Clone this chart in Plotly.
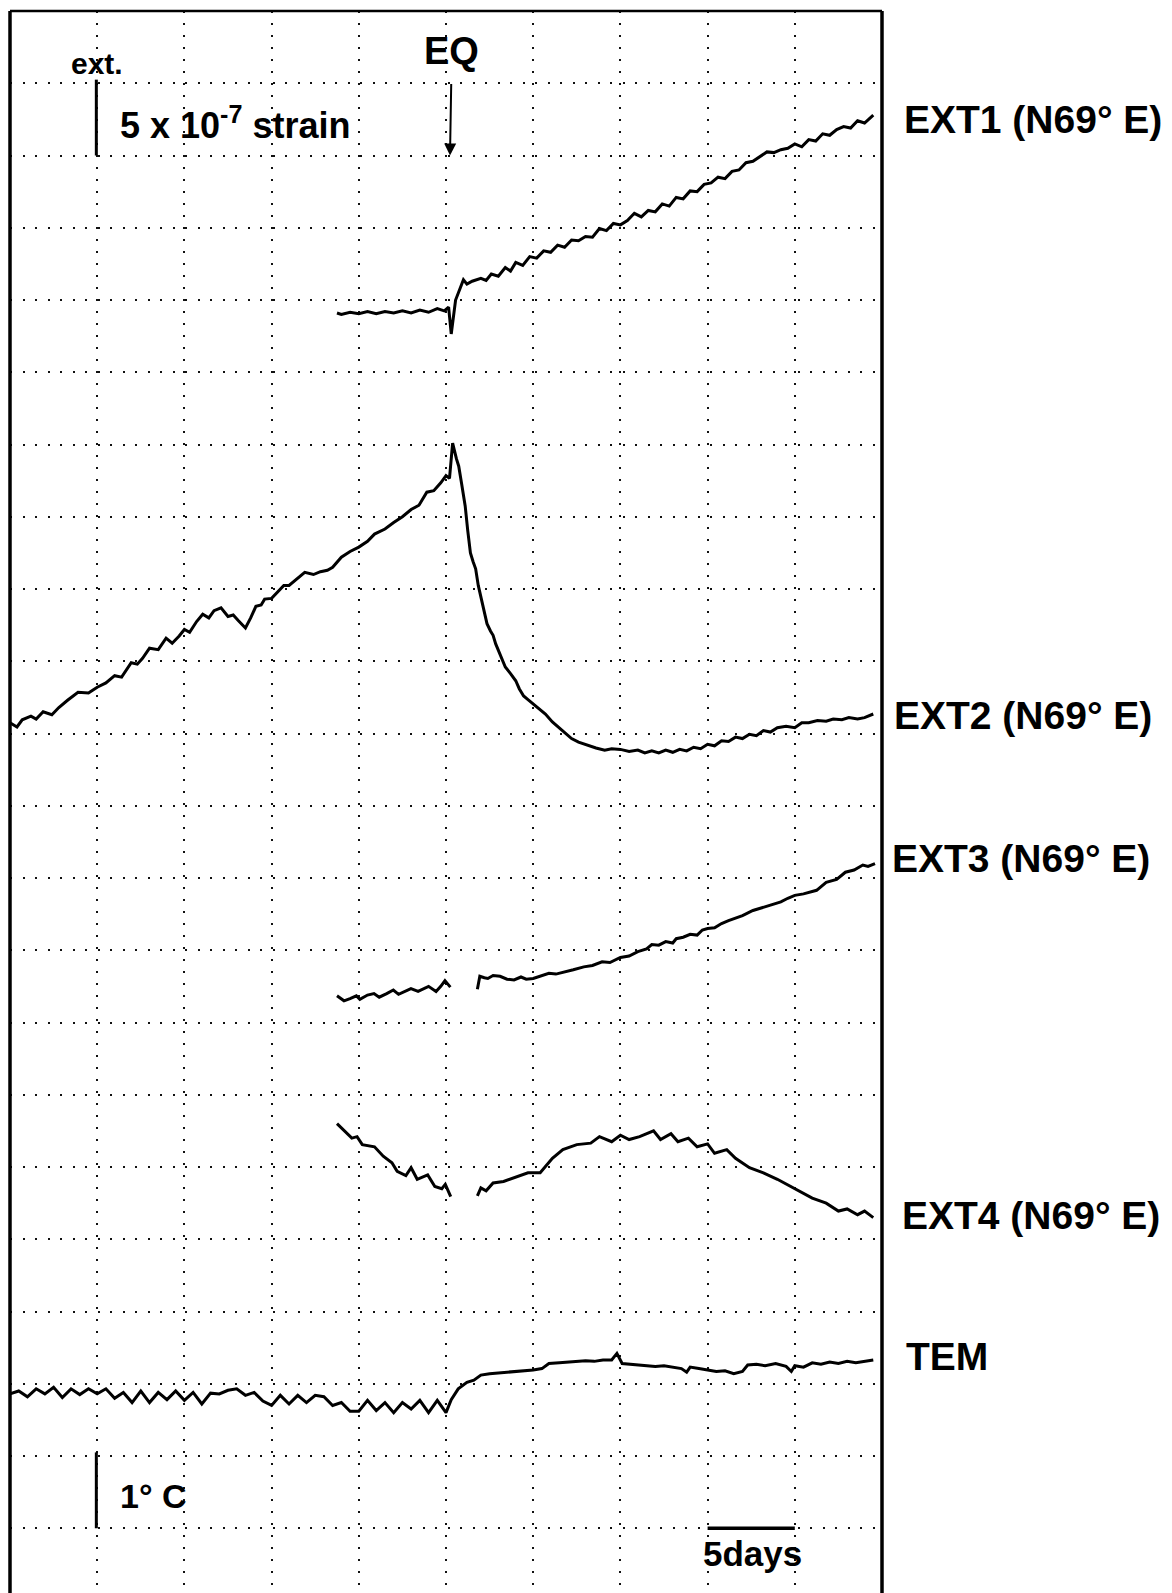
import plotly.graph_objects as go

# ---- data (x: days, y: chart divisions; 1 division = 5e-7 strain / 1 degC) ----
ext1_x = [18.75, 19.0, 19.5, 20.0, 20.5, 21.0, 21.5, 22.0, 22.5, 23.0, 23.5, 24.0, 24.5, 24.9, 25.15,
          25.3, 25.55, 25.7, 26.0, 26.2, 26.5, 27.0, 27.3, 27.6, 28.0, 28.4, 28.7, 29.0, 29.4, 29.8,
          30.2, 30.6, 31.0, 31.4, 31.8, 32.2, 32.6, 33.0, 33.4, 33.8, 34.2, 34.6, 35.0, 35.4, 35.8,
          36.2, 36.6, 37.0, 37.4, 37.8, 38.2, 38.6, 39.0, 39.4, 39.8, 40.2, 40.6, 41.0, 41.4, 41.8,
          42.2, 42.6, 43.0, 43.4, 43.8, 44.2, 44.6, 45.0, 45.4, 45.8, 46.2, 46.6, 47.0, 47.4, 47.8,
          48.2, 48.6, 49.0, 49.5]
ext1_y = [17.82, 17.80, 17.83, 17.81, 17.84, 17.81, 17.84, 17.82, 17.85, 17.82, 17.86, 17.83, 17.88, 17.85, 17.90,
          17.53, 18.00, 18.10, 18.28, 18.22, 18.26, 18.30, 18.27, 18.36, 18.33, 18.45, 18.40, 18.52, 18.48, 18.60,
          18.58, 18.68, 18.66, 18.76, 18.73, 18.83, 18.82, 18.88, 18.87, 18.99, 18.96, 19.06, 19.04, 19.10, 19.20,
          19.15, 19.24, 19.22, 19.33, 19.30, 19.42, 19.40, 19.51, 19.50, 19.60, 19.62, 19.70, 19.68, 19.78, 19.80,
          19.90, 19.92, 19.98, 20.05, 20.04, 20.08, 20.10, 20.16, 20.12, 20.22, 20.20, 20.30, 20.28, 20.36, 20.40,
          20.38, 20.48, 20.45, 20.56]

ext2_x = [0.0, 0.4, 0.7, 1.2, 1.5, 1.9, 2.4, 2.8, 3.3, 3.9, 4.5, 5.0, 5.5, 6.0, 6.4, 6.95, 7.3, 7.6, 8.0, 8.5,
          8.95, 9.3, 9.7, 10.0, 10.3, 10.7, 11.05, 11.4, 11.7, 12.1, 12.5, 12.8, 13.1, 13.5, 13.8, 14.1, 14.4,
          14.6, 15.0, 15.4, 15.7, 16.0, 16.3, 16.6, 16.9, 17.4, 17.8, 18.2, 18.5, 19.0, 19.5, 20.0, 20.5, 20.9,
          21.5, 22.0, 22.5, 23.0, 23.45, 23.9, 24.3, 24.7, 25.0, 25.2, 25.38, 25.6, 25.73, 25.9, 26.1, 26.25,
          26.4, 26.55, 26.7, 26.85, 27.0, 27.2, 27.35, 27.55, 27.7, 27.85, 28.0, 28.2, 28.4, 28.7, 29.0,
          29.2, 29.45, 29.7, 30.0, 30.35, 30.7, 31.1, 31.5, 31.85, 32.2, 32.6, 33.2, 33.6, 34.1, 34.5,
          35.0, 35.5, 36.0, 36.4, 36.8, 37.2, 37.6, 38.0, 38.4, 38.8, 39.2, 39.6, 40.0, 40.4, 40.8, 41.2,
          41.6, 42.0, 42.4, 42.8, 43.2, 43.6, 44.0, 44.5, 45.0, 45.4, 45.8, 46.3, 46.8, 47.2, 47.7, 48.1,
          48.6, 49.0, 49.5]
ext2_y = [12.15, 12.09, 12.19, 12.24, 12.20, 12.30, 12.26, 12.36, 12.46, 12.57, 12.56, 12.64, 12.70, 12.80, 12.78,
          12.98, 12.96, 13.04, 13.18, 13.16, 13.32, 13.25, 13.35, 13.44, 13.40, 13.55, 13.65, 13.60, 13.70, 13.74,
          13.62, 13.64, 13.56, 13.46, 13.60, 13.76, 13.78, 13.86, 13.87, 13.97, 14.05, 14.05, 14.11, 14.16, 14.23,
          14.20, 14.24, 14.26, 14.30, 14.44, 14.52, 14.58, 14.66, 14.76, 14.83, 14.92, 15.00, 15.10, 15.16, 15.34,
          15.36, 15.47, 15.57, 15.53, 16.02, 15.80, 15.70, 15.45, 15.15, 14.80,
          14.50, 14.38, 14.28, 14.05, 13.89, 13.68, 13.52, 13.42, 13.36, 13.24, 13.15, 13.02, 12.92, 12.83, 12.73,
          12.62, 12.52, 12.47, 12.41, 12.34, 12.27, 12.16, 12.08, 12.00, 11.93, 11.88, 11.83, 11.80, 11.77, 11.79,
          11.78, 11.75, 11.77, 11.73,
          11.76, 11.73, 11.77, 11.74, 11.78, 11.76, 11.81, 11.79, 11.85, 11.83, 11.90, 11.89, 11.95, 11.93, 11.99,
          11.97, 12.04, 12.02, 12.08, 12.10, 12.08, 12.15, 12.15, 12.18, 12.17, 12.20, 12.19, 12.22, 12.20, 12.22,
          12.27]

ext3_x = [18.75, 19.15, 19.5, 19.86, 20.06, 20.5, 20.87, 21.17, 21.6, 21.98, 22.28, 22.6, 22.99, 23.4, 23.7,
          24.0, 24.43, 24.7, 24.94, 25.25, None,
          26.8, 26.94, 27.2, 27.4, 27.7, 28.1, 28.5, 28.9, 29.3, 29.6, 30.0, 30.4, 30.9, 31.3, 31.9, 32.3, 32.9,
          33.4, 33.95, 34.4, 35.0, 35.5, 36.0, 36.5, 36.8, 37.2, 37.6, 38.0, 38.2, 38.6, 39.0, 39.4, 39.7, 40.0,
          40.4, 40.8, 41.2, 41.6, 42.0, 42.6, 43.0, 43.4, 43.8, 44.2, 44.6, 45.0, 45.5, 46.0, 46.25, 46.8, 47.4,
          47.9, 48.4, 48.9, 49.2, 49.6]
ext3_y = [8.37, 8.30, 8.33, 8.37, 8.32, 8.38, 8.40, 8.35, 8.40, 8.45, 8.39, 8.43, 8.47, 8.43, 8.47,
          8.50, 8.43, 8.50, 8.58, 8.49, None,
          8.46, 8.64, 8.62, 8.61, 8.65, 8.64, 8.60, 8.59, 8.63, 8.60, 8.61, 8.64, 8.68, 8.67, 8.70, 8.73, 8.77,
          8.79, 8.84, 8.83, 8.90, 8.92, 8.98, 9.02, 9.08, 9.07, 9.12, 9.10, 9.16, 9.18, 9.22, 9.21, 9.28, 9.30,
          9.31, 9.37, 9.41, 9.44, 9.48, 9.55, 9.58, 9.62, 9.65, 9.67, 9.72, 9.76, 9.78, 9.81, 9.83, 9.94, 9.98,
          10.08, 10.11, 10.18, 10.16, 10.20]

ext4_x = [18.75, 19.2, 19.6, 19.9, 20.2, 20.9, 21.4, 21.9, 22.2, 22.7, 23.0, 23.35, 23.95, 24.36, 24.76,
          24.96, 25.27, None,
          26.8, 27.0, 27.3, 27.7, 28.3, 28.9, 29.7, 30.4, 31.1, 31.7, 32.5, 33.3, 33.8, 34.5, 35.0, 35.5,
          36.1, 36.9, 37.3, 37.9, 38.3, 38.9, 39.4, 40.0, 40.4, 41.1, 41.6, 42.4, 43.2, 44.0, 45.0, 46.0,
          46.8, 47.5, 48.0, 48.6, 49.0, 49.5]
ext4_y = [6.60, 6.49, 6.40, 6.42, 6.31, 6.28, 6.15, 6.06, 5.94, 5.88, 5.99, 5.83, 5.89, 5.73, 5.70,
          5.76, 5.59, None,
          5.60, 5.71, 5.67, 5.78, 5.80, 5.85, 5.92, 5.92, 6.12, 6.24, 6.31, 6.33, 6.42, 6.35, 6.44, 6.38,
          6.42, 6.50, 6.38, 6.46, 6.35, 6.40, 6.28, 6.32, 6.19, 6.24, 6.12, 5.99, 5.92, 5.83, 5.70, 5.57,
          5.50, 5.39, 5.42, 5.34, 5.39, 5.30]

tem_x = [0.0, 0.5, 1.0, 1.5, 2.0, 2.5, 3.0, 3.5, 4.0, 4.5, 5.0, 5.5, 6.0, 6.5, 7.0, 7.5, 8.0, 8.5, 9.0, 9.5,
         10.0, 10.5, 11.0, 11.5, 12.0, 12.5, 13.0, 13.5, 14.0, 14.5, 15.0, 15.5, 16.0, 16.5, 17.0, 17.5,
         18.0, 18.5, 19.0, 19.5, 20.0, 20.5, 21.0, 21.5, 22.0, 22.5, 23.0, 23.5, 24.0, 24.5, 25.0,
         25.3, 25.7, 26.2, 26.6, 27.0, 27.5, 28.0, 28.5, 29.0, 29.5, 30.0, 30.5, 30.9, 31.5, 32.0, 32.5,
         33.0, 33.5, 34.0, 34.5, 34.8, 35.1, 35.5, 36.0, 36.5, 37.0, 37.5, 38.0, 38.5, 38.8, 39.0, 39.5,
         40.0, 40.5, 41.0, 41.5, 42.0, 42.3, 42.8, 43.3, 43.9, 44.5, 44.8, 45.0, 45.5, 46.0, 46.5, 47.0,
         47.5, 48.0, 48.5, 49.0, 49.5]
tem_y = [2.86, 2.90, 2.82, 2.93, 2.86, 2.95, 2.81, 2.93, 2.85, 2.93, 2.86, 2.93, 2.80, 2.88, 2.74, 2.90,
         2.74, 2.88, 2.78, 2.90, 2.77, 2.88, 2.72, 2.87, 2.86, 2.91, 2.93, 2.84, 2.88, 2.76, 2.70, 2.84,
         2.72, 2.84, 2.74, 2.84, 2.82, 2.70, 2.74, 2.62, 2.62, 2.77, 2.63, 2.74, 2.60, 2.74, 2.65, 2.77,
         2.60, 2.77, 2.60,
         2.78, 2.93, 3.02, 3.05, 3.12, 3.14, 3.15, 3.16, 3.16, 3.18, 3.19, 3.21, 3.28, 3.29, 3.30, 3.31,
         3.32, 3.31, 3.33, 3.33, 3.42, 3.28, 3.27, 3.26, 3.25, 3.24, 3.25, 3.23, 3.21, 3.16, 3.23, 3.21,
         3.19, 3.17, 3.18, 3.14, 3.17, 3.26, 3.27, 3.25, 3.28, 3.24, 3.17, 3.25, 3.23, 3.29, 3.27, 3.30,
         3.28, 3.31, 3.29, 3.31, 3.33]

series = [("EXT1", ext1_x, ext1_y), ("EXT2", ext2_x, ext2_y), ("EXT3", ext3_x, ext3_y),
          ("EXT4", ext4_x, ext4_y), ("TEM", tem_x, tem_y)]

labels = ["EXT1 (N69° E)", "EXT2 (N69° E)", "EXT3 (N69° E)", "EXT4 (N69° E)", "TEM"]
label_pos = [(1.0229, 0.9317), (1.0115, 0.5544), (1.0092, 0.4640), (1.0206, 0.2389), (1.0252, 0.1498)]

eq_day = 25.23
x_range = [0, 50]
y_range = [0.104, 22]

FONT = "Liberation Sans, Arial, sans-serif"

fig = go.Figure()
for name, xs, ys in series:
    fig.add_trace(go.Scatter(x=xs, y=ys, mode="lines", name=name,
                             line=dict(color="black", width=3), connectgaps=False,
                             showlegend=False))

# page body has an 8px margin: figure is sized/offset to compensate
fig.update_layout(
    width=1164, height=1585,
    margin=dict(l=2, r=290, t=3, b=0),
    paper_bgcolor="white", plot_bgcolor="white",
    xaxis=dict(range=x_range, dtick=5, tick0=0, showgrid=True, gridcolor="#111",
               gridwidth=2, griddash="2px,10px", showticklabels=False, ticks="",
               zeroline=False, showline=False),
    yaxis=dict(range=y_range, dtick=1, tick0=0, showgrid=True, gridcolor="#111",
               gridwidth=2, griddash="2px,10.5px", showticklabels=False, ticks="",
               zeroline=False, showline=False),
)

# frame (left, top, right)
fig.add_shape(type="line", xref="paper", yref="paper", x0=0, x1=0, y0=0, y1=1,
              line=dict(color="black", width=3.5))
fig.add_shape(type="line", xref="paper", yref="paper", x0=0, x1=1, y0=1, y1=1,
              line=dict(color="black", width=2.5))
fig.add_shape(type="line", xref="paper", yref="paper", x0=1, x1=1, y0=0, y1=1,
              line=dict(color="black", width=3.5))

# scale bars
fig.add_shape(type="line", x0=4.95, x1=4.95, y0=20.0, y1=21.05, line=dict(color="black", width=3))
fig.add_shape(type="line", x0=4.95, x1=4.95, y0=1.0, y1=2.05, line=dict(color="black", width=3))
fig.add_shape(type="line", x0=40, x1=45, y0=1.0, y1=1.0, line=dict(color="black", width=3.5))

def txt(text, x, y, size, xanchor="left", xref="x", yref="y"):
    fig.add_annotation(text=text, x=x, y=y, xref=xref, yref=yref, showarrow=False,
                       xanchor=xanchor, yanchor="middle",
                       font=dict(family=FONT, size=size, color="black", weight="bold"))

txt("ext.", 5.0, 21.28, 30, xanchor="center")
txt("5 x 10<sup>-7</sup> strain", 6.2, 20.45, 36)
txt("1° C", 6.2, 1.45, 34)
txt("5days", 42.6, 0.65, 35, xanchor="center")

# EQ label with its arrow
fig.add_annotation(x=eq_day, y=20.0, ax=eq_day + 0.1, ay=21.44, xref="x", yref="y",
                   axref="x", ayref="y", text="EQ", showarrow=True,
                   arrowhead=2, arrowsize=1.2, arrowwidth=2, arrowcolor="black",
                   standoff=0, startstandoff=10,
                   font=dict(family=FONT, size=38, color="black", weight="bold"))

for lab, (px, py) in zip(labels, label_pos):
    txt(lab, px, py, 39, xref="paper", yref="paper")

fig.write_html("out.html")
